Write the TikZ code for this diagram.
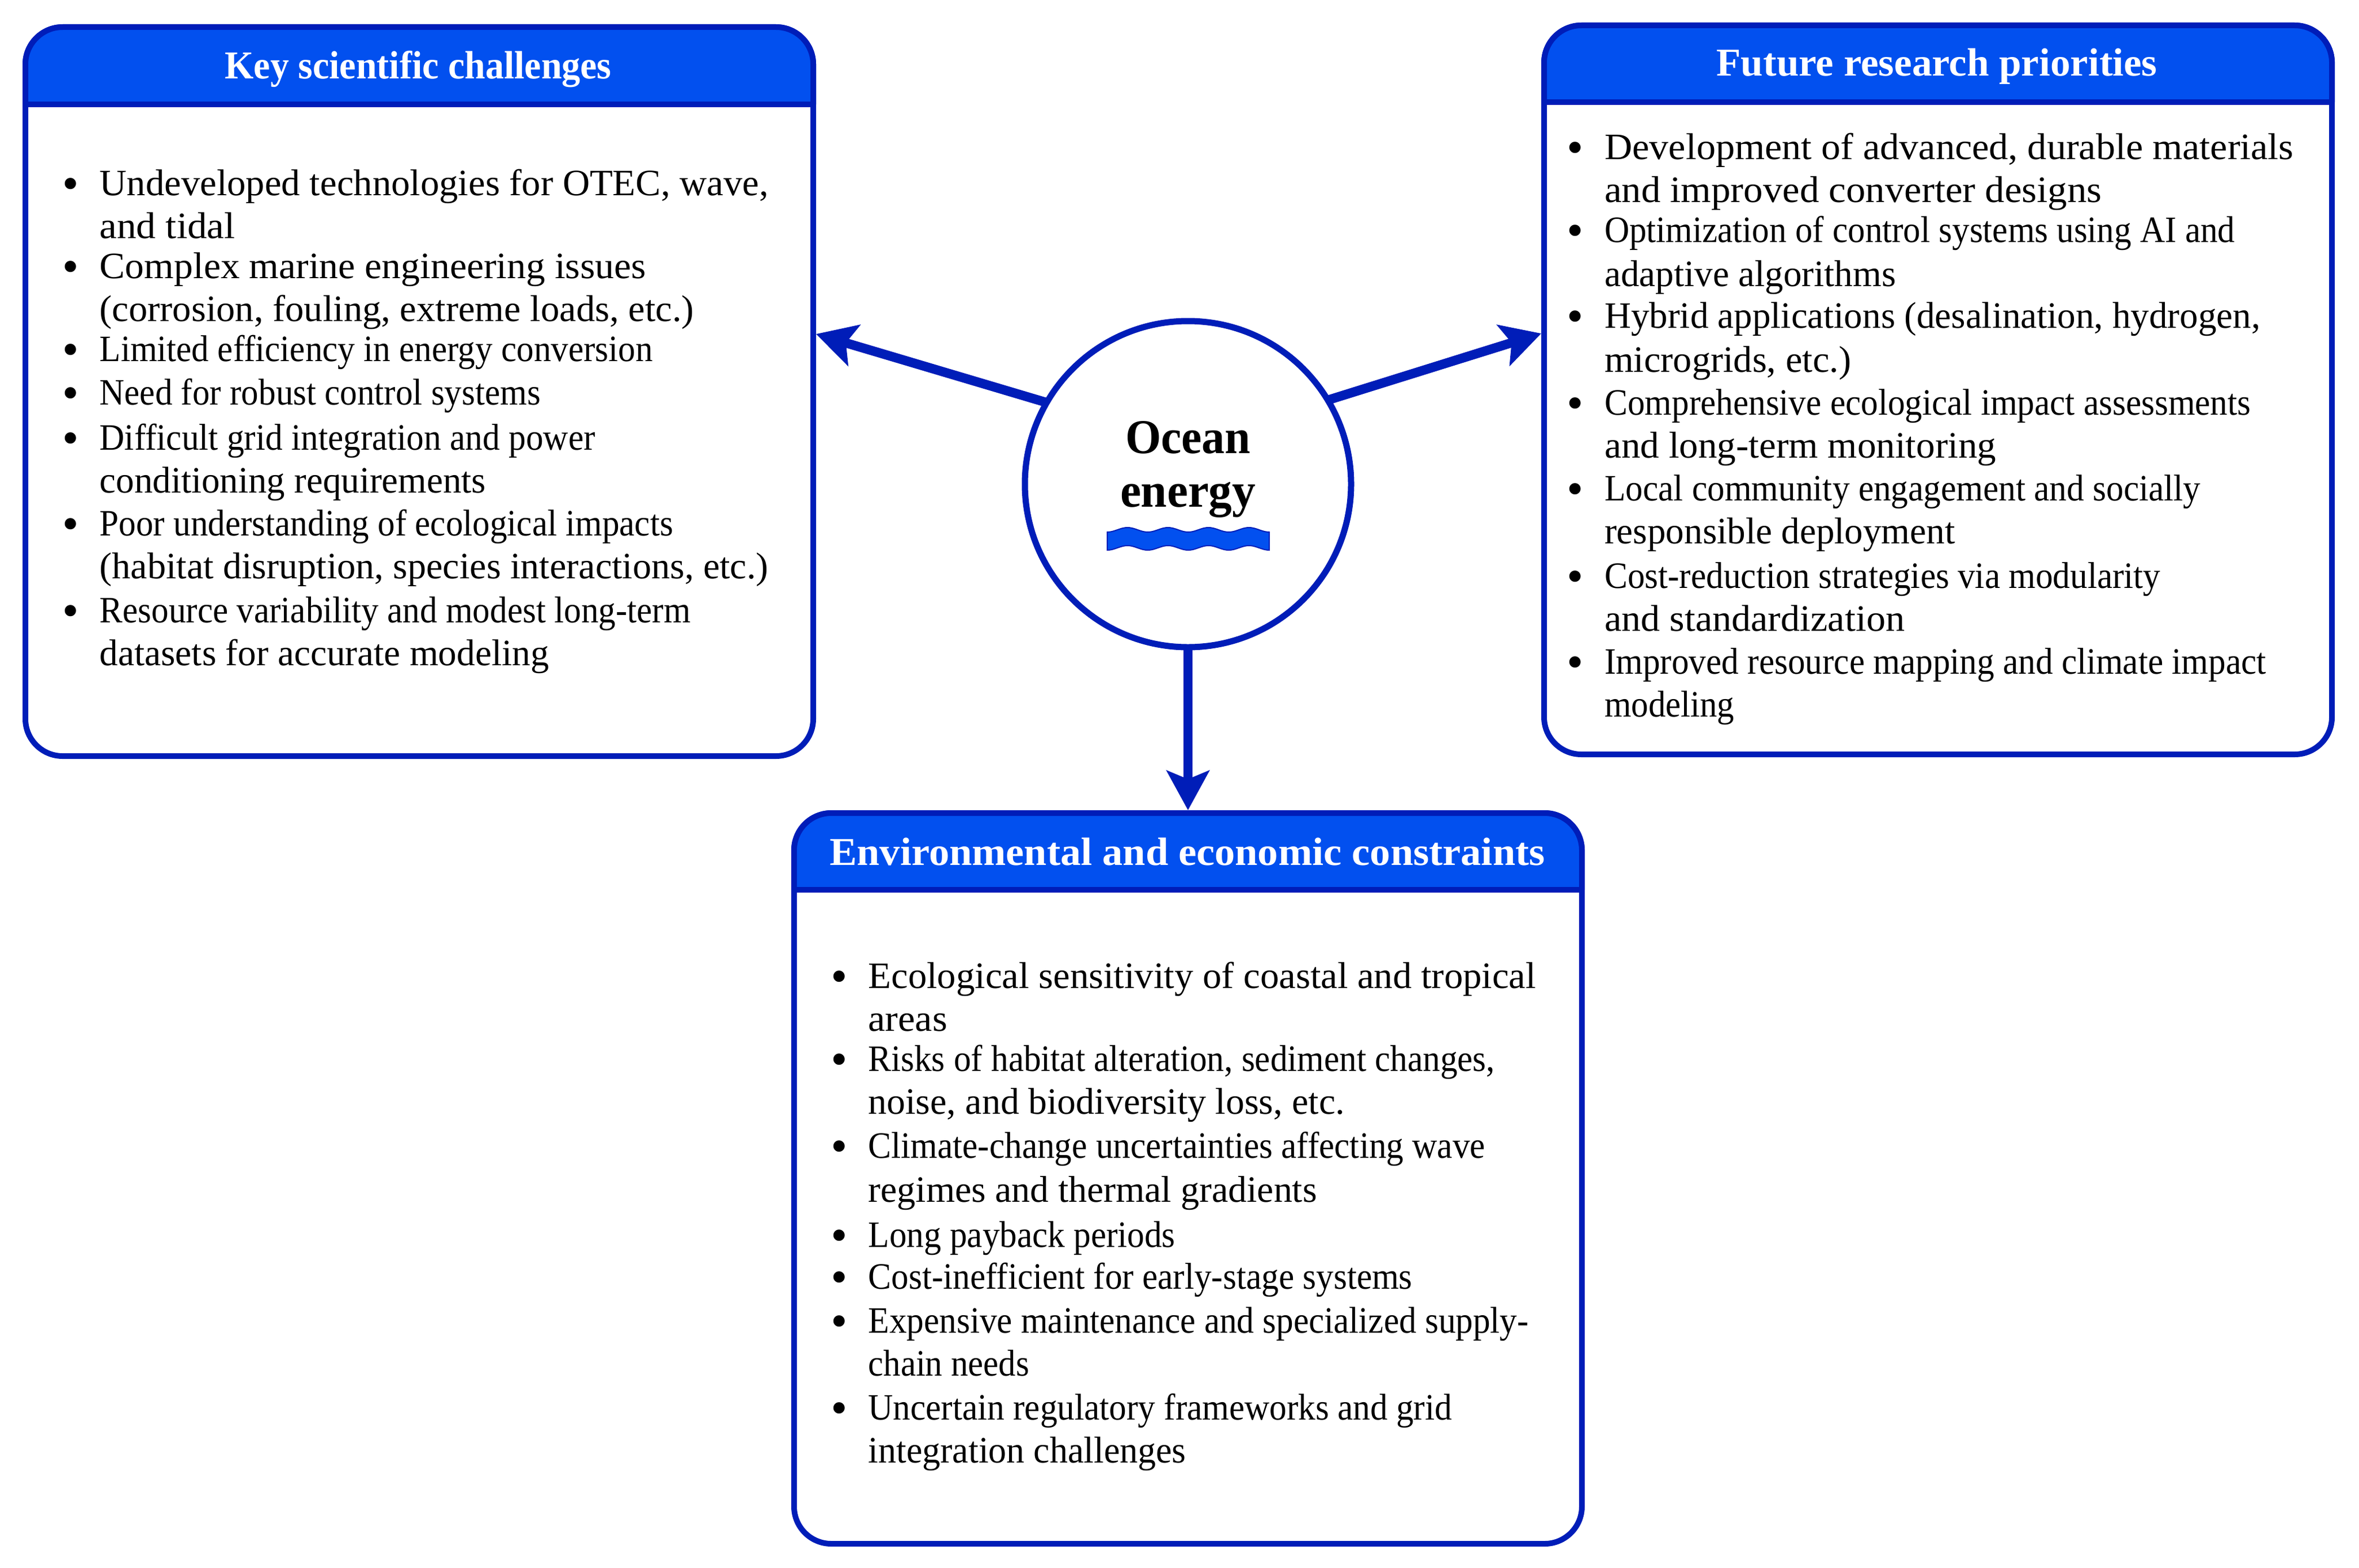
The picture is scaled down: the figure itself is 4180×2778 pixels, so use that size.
\documentclass[tikz,border=0pt]{standalone}
\usepackage{fontspec}
\usepackage{graphicx}
\usetikzlibrary{arrows.meta,calc}
\setmainfont{Liberation Serif}
\newfontfamily\bodyf{Liberation Serif}
\newfontfamily\headf{Liberation Serif Bold}
\definecolor{edgeblue}{HTML}{001DB8}
\definecolor{fillblue}{HTML}{0250EF}
\newcommand{\fl}[2]{\resizebox{#1pt}{\height}{#2}}
\newcommand{\ib}{\strut\llap{\raisebox{-7pt}{\fontsize{84}{76}\selectfont\textbullet}\hspace{37pt}}}
\tikzset{
  panel/.style={draw=edgeblue,line width=10pt,fill=white,rounded corners=66pt,minimum width=1396pt,outer sep=5pt,inner sep=0pt},
  headbar/.style={draw=edgeblue,fill=fillblue,line width=10pt,rounded corners=66pt},
  headline/.style={draw=edgeblue,line width=10pt},
  headtext/.style={text=white,inner sep=0pt,anchor=base,font=\headf\fontsize{70}{76}\selectfont},
  li/.style={anchor=north west,inner sep=0pt,align=left,font=\bodyf\fontsize{66}{76}\selectfont},
  hub/.style={circle,draw=edgeblue,line width=11pt,fill=white,minimum size=578pt,inner sep=0pt,outer sep=0pt},
  hubtext/.style={inner sep=0pt,anchor=base,font=\headf\fontsize{86}{90}\selectfont},
  link/.style={draw=edgeblue,line width=16.5pt,-{Stealth[length=70pt,width=75pt,inset=15pt]}},
  wave/.style={draw=edgeblue,line width=2pt,fill=fillblue}
}
\begin{document}
\begin{tikzpicture}[x=1pt,y=-1pt]
\useasboundingbox (0,0) rectangle (4180,2778);
% panels
\node[panel,minimum height=1292pt] (b1) at (743,694) {};
\node[panel,minimum height=1292pt] (b2) at (3434,691) {};
\node[panel,minimum height=1295pt] (b3) at (2105,2088.5) {};
% header bars
\draw[headbar] (45,185) -- (45,48) -- (1441,48) -- (1441,185);
\draw[headline] (40,185) -- (1446,185);
\draw[headbar] (2736,181) -- (2736,45) -- (4132,45) -- (4132,181);
\draw[headline] (2731,181) -- (4137,181);
\draw[headbar] (1407,1577) -- (1407,1441) -- (2803,1441) -- (2803,1577);
\draw[headline] (1402,1577) -- (2808,1577);
\node[headtext] (h1) at (741,139) {\fl{685}{Key scientific challenges}};
\node[headtext] (h2) at (3432,134) {\fl{781}{Future research priorities}};
\node[headtext] (h3) at (2104,1533) {\fl{1267}{Environmental and economic constraints}};
% box 1
\node[li] (a1) at (176.5,292.8) {\ib\fl{1185}{Undeveloped technologies for OTEC, wave,}\\\fl{240}{and tidal}};
\node[li] (a2) at (176.5,439.8) {\ib\fl{968}{Complex marine engineering issues}\\\fl{1053}{(corrosion, fouling, extreme loads, etc.)}};
\node[li] (a3) at (176.5,586.8) {\ib\fl{980}{Limited efficiency in energy conversion}};
\node[li] (a4) at (176.5,663.8) {\ib\fl{781}{Need for robust control systems}};
\node[li] (a5) at (176.5,743.8) {\ib\fl{878}{Difficult grid integration and power}\\\fl{684}{conditioning requirements}};
\node[li] (a6) at (176.5,895.8) {\ib\fl{1016}{Poor understanding of ecological impacts}\\\fl{1185}{(habitat disruption, species interactions, etc.)}};
\node[li] (a7) at (176.5,1049.8) {\ib\fl{1047}{Resource variability and modest long-term}\\\fl{796}{datasets for accurate modeling}};
% box 2
\node[li] (c1) at (2843,228.8) {\ib\fl{1221}{Development of advanced, durable materials}\\\fl{881}{and improved converter designs}};
\node[li] (c2) at (2843,375.8) {\ib\fl{1117}{Optimization of control systems using AI and}\\[2pt]\fl{516}{adaptive algorithms}};
\node[li] (c3) at (2843,527.8) {\ib\fl{1162}{Hybrid applications (desalination, hydrogen,}\\[2pt]\fl{437}{microgrids, etc.)}};
\node[li] (c4) at (2843,681.8) {\ib\fl{1145}{Comprehensive ecological impact assessments}\\\fl{694}{and long-term monitoring}};
\node[li] (c5) at (2843,833.8) {\ib\fl{1056}{Local community engagement and socially}\\\fl{621}{responsible deployment}};
\node[li] (c6) at (2843,988.8) {\ib\fl{985}{Cost-reduction strategies via modularity}\\\fl{532}{and standardization}};
\node[li] (c7) at (2843,1140.8) {\ib\fl{1172}{Improved resource mapping and climate impact}\\\fl{230}{modeling}};
% box 3
\node[li] (e1) at (1538.5,1697.8) {\ib\fl{1183}{Ecological sensitivity of coastal and tropical}\\\fl{140}{areas}};
\node[li] (e2) at (1538.5,1844.8) {\ib\fl{1110}{Risks of habitat alteration, sediment changes,}\\\fl{844}{noise, and biodiversity loss, etc.}};
\node[li] (e3) at (1538.5,1998.8) {\ib\fl{1093}{Climate-change uncertainties affecting wave}\\[2pt]\fl{795}{regimes and thermal gradients}};
\node[li] (e4) at (1538.5,2156.8) {\ib\fl{544}{Long payback periods}};
\node[li] (e5) at (1538.5,2230.8) {\ib\fl{964}{Cost-inefficient for early-stage systems}};
\node[li] (e6) at (1538.5,2308.8) {\ib\fl{1170}{Expensive maintenance and specialized supply-}\\\fl{285}{chain needs}};
\node[li] (e7) at (1538.5,2462.8) {\ib\fl{1034}{Uncertain regulatory frameworks and grid}\\\fl{563}{integration challenges}};
% hub
\node[hub] (c) at (2105,858) {};
\node[hubtext] (o1) at (2105,803) {\fl{222}{Ocean}};
\node[hubtext] (o2) at (2105,898) {\fl{240}{energy}};
\draw[wave] plot[domain=0:287,samples=81] ({1962+\x},{939+4*cos(\x/71.75*360)})
  -- plot[domain=287:0,samples=81] ({1962+\x},{971+4*cos(\x/71.75*360)}) -- cycle;
% connectors
\coordinate (t1) at ($(b1.north east)+(0,549)$);
\coordinate (t2) at ($(b2.north west)+(0,551)$);
\draw[link] (c.150.6) -- (t1);
\draw[link] (c.31.6) -- (t2);
\draw[link] (c.south) -- (b3.north);
\end{tikzpicture}
\end{document}
